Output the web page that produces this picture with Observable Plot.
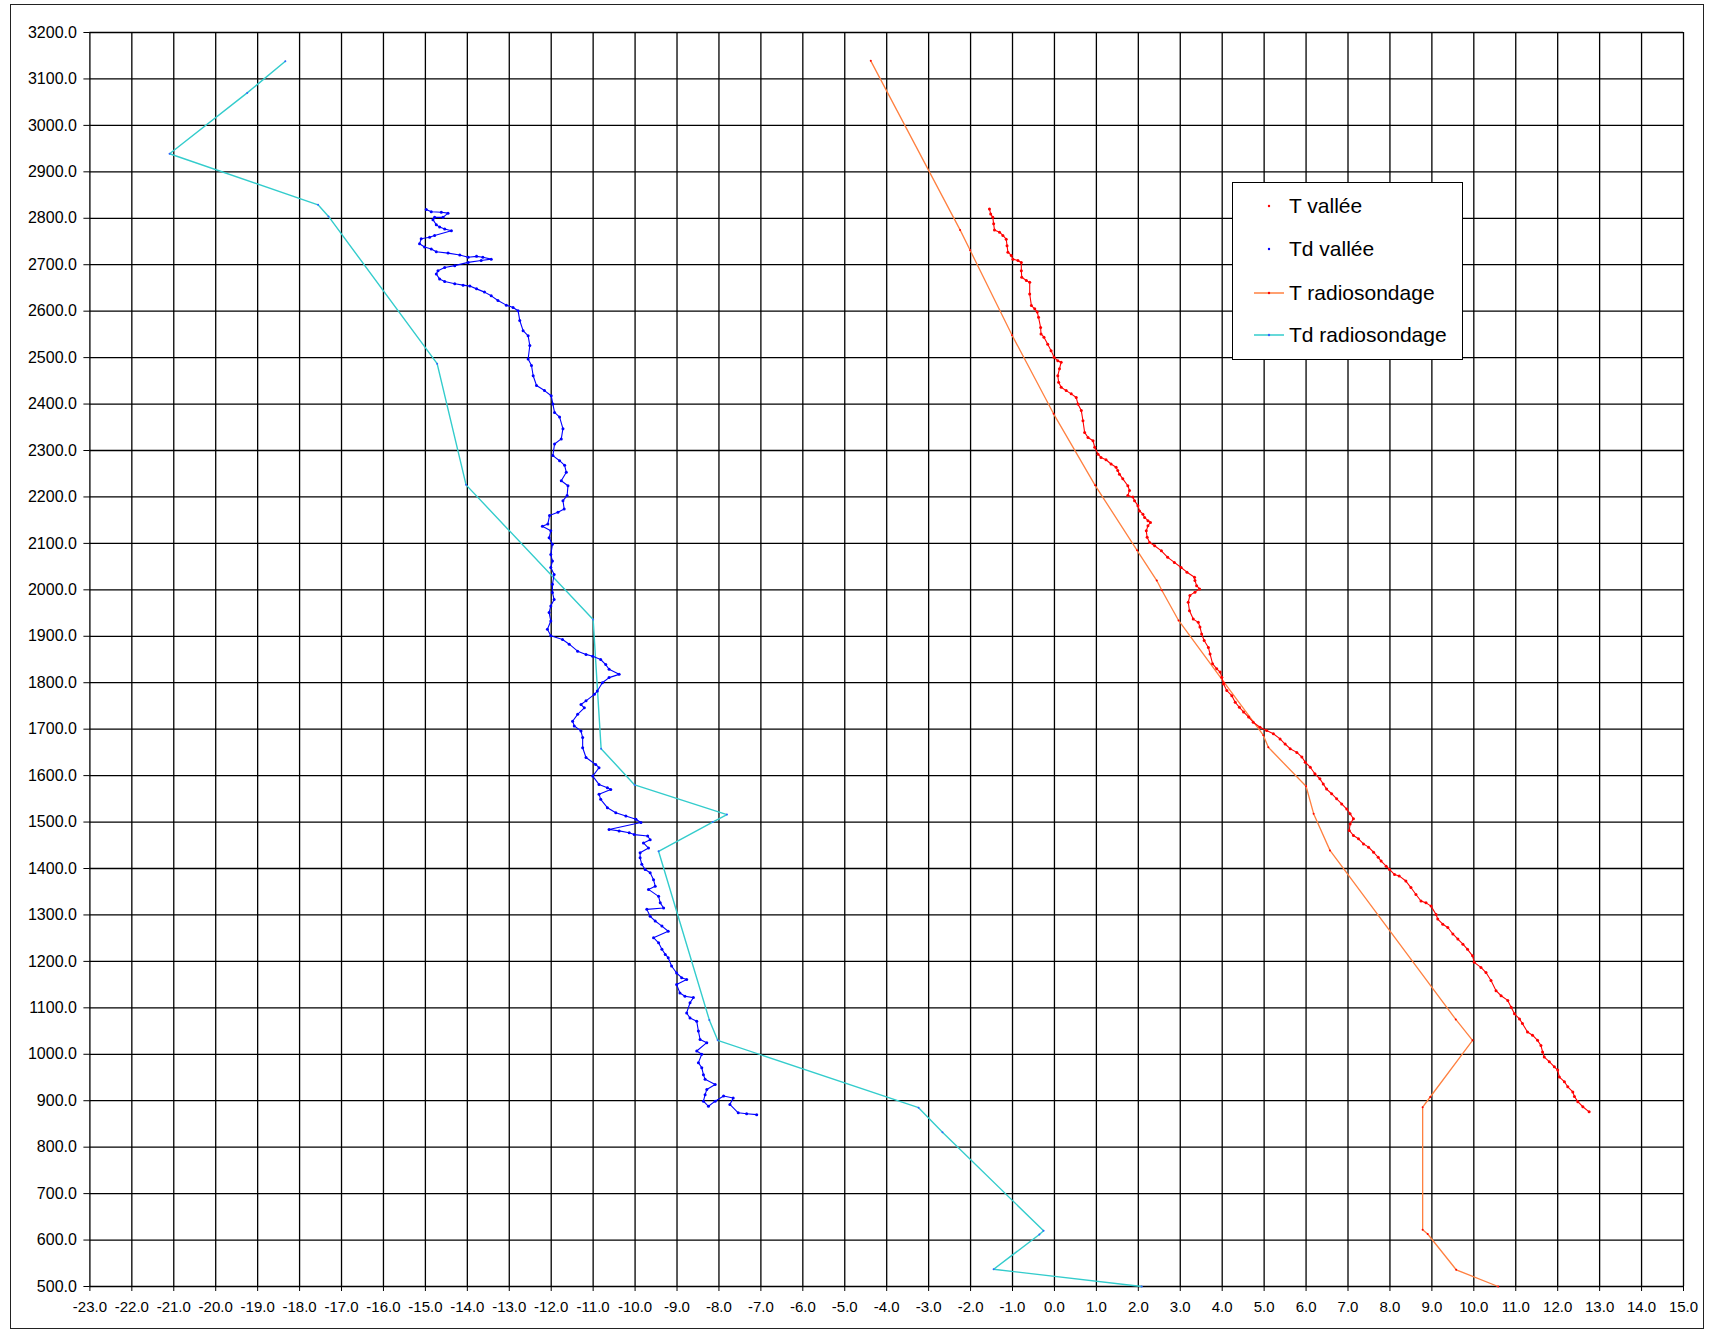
<!DOCTYPE html>
<html>
<head>
<meta charset="utf-8">
<script src="https://cdn.jsdelivr.net/npm/d3@7"></script>
<script src="https://cdn.jsdelivr.net/npm/@observablehq/plot@0.6"></script>
<style>
  html, body { margin: 0; padding: 0; background: #fff; }
  #wrap { position: relative; width: 1710px; height: 1330px; font-family: "Liberation Sans", Arial, sans-serif; }
  #frame { position: absolute; left: 10px; top: 4px; width: 1694px; height: 1325px; border: 1px solid #222; box-sizing: border-box; pointer-events: none; }
  #legend { position: absolute; left: 1232px; top: 182px; width: 231px; height: 178px; border: 1.5px solid #000; background: #fff; box-sizing: border-box; }
  #legend .row { position: absolute; left: 0; height: 24px; display: flex; align-items: center; }
  #legend svg { display: block; }
  #legend span { font-size: 21px; color: #000; margin-left: 4px; white-space: nowrap; }
</style>
</head>
<body>
<div id="wrap">
  <div id="chart"></div>
  <div id="frame"></div>
  <div id="legend"></div>
</div>
<script>
// Temperature profiles: altitude (m) and temperature (°C).
// Axis ticks
const xTicks = d3.range(-23, 16, 1);
const yTicks = d3.range(500, 3201, 100);

// T vallée : [altitude, temperature]
const tVallee = [
  [2820,-1.55],[2809,-1.52],[2802,-1.47],[2788,-1.45],[2775,-1.43],[2770,-1.31],[2763,-1.23],[2755,-1.15],
  [2741,-1.13],[2727,-1.11],[2720,-1.03],[2712,-0.99],[2709,-0.87],[2705,-0.79],[2687,-0.79],[2673,-0.78],
  [2666,-0.67],[2662,-0.59],[2637,-0.59],[2612,-0.55],[2605,-0.47],[2598,-0.41],[2587,-0.38],[2565,-0.33],
  [2551,-0.32],[2544,-0.25],[2529,-0.16],[2515,-0.08],[2501,-0.01],[2493,0.08],[2490,0.16],[2476,0.12],
  [2461,0.08],[2447,0.10],[2436,0.16],[2429,0.28],[2422,0.40],[2414,0.52],[2400,0.56],[2386,0.64],
  [2364,0.68],[2339,0.72],[2328,0.80],[2321,0.92],[2307,0.96],[2292,1.04],[2285,1.11],[2280,1.23],
  [2271,1.35],[2264,1.47],[2257,1.51],[2249,1.55],[2239,1.63],[2224,1.75],[2214,1.79],[2203,1.75],
  [2200,1.87],[2192,1.91],[2181,1.99],[2170,2.03],[2163,2.11],[2156,2.15],[2149,2.23],[2145,2.29],
  [2138,2.23],[2127,2.19],[2113,2.21],[2102,2.27],[2095,2.39],[2084,2.55],[2070,2.70],[2059,2.86],
  [2048,3.02],[2038,3.16],[2027,3.34],[2020,3.35],[2009,3.39],[2002,3.46],[1995,3.35],[1988,3.23],
  [1973,3.19],[1955,3.22],[1937,3.31],[1930,3.43],[1920,3.47],[1905,3.51],[1891,3.57],[1876,3.67],
  [1862,3.71],[1841,3.77],[1830,3.87],[1823,3.95],[1812,3.99],[1798,4.03],[1783,4.11],[1772,4.23],
  [1758,4.31],[1747,4.41],[1737,4.51],[1726,4.63],[1715,4.74],[1704,4.90],[1697,5.06],[1690,5.22],
  [1679,5.38],[1668,5.50],[1658,5.62],[1650,5.78],[1640,5.90],[1629,5.98],[1618,6.10],[1604,6.21],
  [1593,6.33],[1582,6.41],[1571,6.49],[1561,6.61],[1550,6.73],[1539,6.85],[1528,6.97],[1518,7.05],
  [1507,7.13],[1496,7.05],[1482,7.03],[1471,7.13],[1464,7.25],[1453,7.37],[1446,7.49],[1435,7.61],
  [1424,7.72],[1416,7.79],[1405,7.91],[1398,7.99],[1387,8.11],[1384,8.22],[1373,8.38],[1359,8.50],
  [1344,8.62],[1330,8.74],[1326,8.86],[1319,8.98],[1301,9.10],[1291,9.14],[1280,9.26],[1273,9.38],
  [1259,9.50],[1248,9.62],[1237,9.74],[1226,9.85],[1212,9.97],[1198,10.01],[1187,10.17],[1176,10.29],
  [1159,10.41],[1137,10.53],[1126,10.65],[1116,10.81],[1101,10.89],[1087,10.97],[1076,11.09],[1066,11.16],
  [1048,11.28],[1041,11.40],[1030,11.52],[1019,11.60],[1005,11.64],[994,11.68],[984,11.80],[973,11.92],
  [966,12.00],[951,12.04],[941,12.16],[930,12.24],[919,12.36],[909,12.40],[898,12.48],[887,12.60],[876,12.75]
];

// Td vallée : [altitude, dew point]
const tdVallee = [
  [2819,-14.98],[2814,-14.86],[2813,-14.62],[2811,-14.46],[2802,-14.58],[2802,-14.78],[2797,-14.82],[2786,-14.74],
  [2781,-14.66],[2777,-14.54],[2773,-14.38],[2763,-14.78],[2759,-14.90],[2756,-15.10],[2745,-15.14],[2738,-15.02],
  [2734,-14.86],[2728,-14.74],[2725,-14.46],[2721,-14.18],[2716,-13.98],[2718,-13.78],[2716,-13.63],[2712,-13.43],
  [2709,-13.67],[2705,-13.98],[2698,-14.30],[2694,-14.54],[2687,-14.70],[2680,-14.74],[2669,-14.66],[2664,-14.54],
  [2659,-14.30],[2656,-14.10],[2654,-13.94],[2648,-13.78],[2641,-13.59],[2633,-13.43],[2623,-13.27],[2613,-13.07],
  [2608,-12.91],[2601,-12.79],[2580,-12.75],[2558,-12.67],[2547,-12.55],[2526,-12.51],[2497,-12.55],[2483,-12.47],
  [2461,-12.43],[2440,-12.35],[2429,-12.16],[2418,-12.00],[2400,-11.96],[2382,-11.92],[2372,-11.80],[2347,-11.72],
  [2325,-11.76],[2314,-11.92],[2289,-11.96],[2278,-11.80],[2268,-11.68],[2253,-11.64],[2235,-11.76],[2224,-11.60],
  [2203,-11.62],[2192,-11.72],[2174,-11.69],[2167,-11.84],[2160,-12.04],[2142,-12.08],[2137,-12.21],[2127,-12.01],
  [2112,-12.05],[2098,-11.97],[2076,-12.01],[2062,-11.97],[2048,-12.01],[2033,-11.93],[2012,-11.97],[1994,-11.97],
  [1979,-11.93],[1965,-12.01],[1951,-12.05],[1933,-12.01],[1915,-12.09],[1901,-12.01],[1893,-11.73],[1883,-11.57],
  [1868,-11.37],[1861,-11.17],[1857,-11.01],[1850,-10.82],[1839,-10.70],[1829,-10.62],[1818,-10.38],[1811,-10.62],
  [1800,-10.78],[1782,-10.90],[1775,-10.97],[1761,-11.17],[1753,-11.29],[1746,-11.21],[1732,-11.37],[1717,-11.49],
  [1707,-11.45],[1696,-11.29],[1682,-11.25],[1660,-11.25],[1639,-11.17],[1624,-10.94],[1617,-10.86],[1599,-11.01],
  [1581,-10.86],[1574,-10.66],[1570,-10.58],[1560,-10.86],[1549,-10.82],[1531,-10.66],[1520,-10.46],[1513,-10.22],
  [1506,-9.98],[1499,-9.86],[1484,-10.62],[1481,-10.38],[1477,-10.14],[1473,-10.02],[1470,-9.70],[1462,-9.64],
  [1455,-9.80],[1444,-9.68],[1434,-9.88],[1423,-9.88],[1409,-9.84],[1398,-9.76],[1391,-9.64],[1376,-9.56],
  [1362,-9.52],[1355,-9.68],[1340,-9.44],[1326,-9.40],[1315,-9.32],[1312,-9.72],[1297,-9.64],[1287,-9.52],
  [1276,-9.36],[1265,-9.21],[1251,-9.56],[1240,-9.44],[1226,-9.36],[1215,-9.28],[1208,-9.21],[1190,-9.13],
  [1175,-9.01],[1165,-8.89],[1161,-8.77],[1150,-9.01],[1132,-8.93],[1125,-8.81],[1122,-8.61],[1111,-8.69],
  [1089,-8.77],[1078,-8.69],[1071,-8.53],[1050,-8.49],[1032,-8.45],[1025,-8.29],[1007,-8.53],[1000,-8.41],
  [982,-8.49],[971,-8.41],[956,-8.37],[946,-8.33],[935,-8.09],[924,-8.29],[913,-8.33],[899,-8.37],
  [888,-8.25],[899,-8.09],[910,-7.89],[906,-7.66],[892,-7.74],[874,-7.54],[872,-7.34],[870,-7.10]
];

// T radiosondage : [altitude, temperature]
const tRadio = [
  [3139,-4.38],[2775,-2.25],[2731,-2.01],[2548,-1.01],[2379,-0.02],[2225,0.97],[2085,1.97],[2020,2.44],
  [1999,2.56],[1934,2.96],[1800,4.05],[1687,4.98],[1661,5.10],[1577,6.00],[1518,6.18],[1439,6.57],
  [1075,9.57],[1030,9.97],[908,8.96],[886,8.78],[622,8.78],[613,8.90],[536,9.58],[500,10.58]
];

// Td radiosondage : [altitude, dew point]
const tdRadio = [
  [3138,-18.34],[3070,-19.25],[2939,-21.10],[2829,-17.56],[2804,-17.31],[2487,-14.72],[2226,-14.03],[1936,-11.00],
  [1658,-10.81],[1580,-10.01],[1516,-7.81],[1500,-8.15],[1437,-9.44],[1074,-8.23],[1030,-8.03],[885,-3.24],
  [832,-2.67],[620,-0.26],[612,-0.36],[537,-1.45],[500,2.08]
];

const seriesNames = ["T vallée", "Td vallée", "T radiosondage", "Td radiosondage"];
const seriesColors = ["#ff0000", "#0000ff", "#ff8040", "#33cccc"];
const markerColors = ["#ff0000", "#0000ff", "#ff0000", "#3366ff"];

const rows = pairs => pairs.map(([alt, t]) => ({alt, t}));
const fmt = d => d.toFixed(1);

const chart = Plot.plot({
  width: 1710,
  height: 1330,
  marginLeft: 89.4,
  marginRight: 27,
  marginTop: 32,
  marginBottom: 44,
  style: {fontFamily: "'Liberation Sans', Arial, sans-serif", color: "#000", background: "transparent", overflow: "visible"},
  x: {domain: [-23, 15]},
  y: {domain: [500, 3200]},
  marks: [
    Plot.gridX(xTicks, {stroke: "#000", strokeOpacity: 1, strokeWidth: 1.3}),
    Plot.gridY(yTicks, {stroke: "#000", strokeOpacity: 1, strokeWidth: 1.3}),
    Plot.axisX(xTicks, {tickSize: 5, tickPadding: 10, tickFormat: fmt, fontSize: 15, label: null}),
    Plot.axisY(yTicks, {tickSize: 6, tickPadding: 7, tickFormat: fmt, fontSize: 16, label: null}),
    // radiosonde profiles
    Plot.line(rows(tdRadio), {x: "t", y: "alt", stroke: seriesColors[3], strokeWidth: 1.4}),
    Plot.dot(rows(tdRadio), {x: "t", y: "alt", r: 1, fill: markerColors[3], stroke: null}),
    Plot.line(rows(tRadio), {x: "t", y: "alt", stroke: seriesColors[2], strokeWidth: 1.3}),
    Plot.dot(rows(tRadio), {x: "t", y: "alt", r: 1, fill: markerColors[2], stroke: null}),
    // valley measurements
    Plot.line(rows(tdVallee), {x: "t", y: "alt", stroke: seriesColors[1], strokeWidth: 1.1}),
    Plot.dot(rows(tdVallee), {x: "t", y: "alt", r: 1.5, fill: seriesColors[1], stroke: null}),
    Plot.line(rows(tVallee), {x: "t", y: "alt", stroke: seriesColors[0], strokeWidth: 1.1}),
    Plot.dot(rows(tVallee), {x: "t", y: "alt", r: 1.5, fill: seriesColors[0], stroke: null})
  ]
});
document.getElementById("chart").appendChild(chart);

// Legend box
const legend = d3.select("#legend");
const rowTops = [11, 54, 98, 140];
seriesNames.forEach((name, i) => {
  const row = legend.append("div").attr("class", "row").style("top", rowTops[i] + "px").style("left", "20px");
  const svg = row.append("svg").attr("width", 32).attr("height", 24);
  if (i >= 2) {
    svg.append("line").attr("x1", 1).attr("x2", 31).attr("y1", 12).attr("y2", 12)
      .attr("stroke", seriesColors[i]).attr("stroke-width", 1.5);
  }
  svg.append("circle").attr("cx", 16).attr("cy", 12).attr("r", 1.2).attr("fill", markerColors[i]);
  row.append("span").text(name);
});
</script>
</body>
</html>
